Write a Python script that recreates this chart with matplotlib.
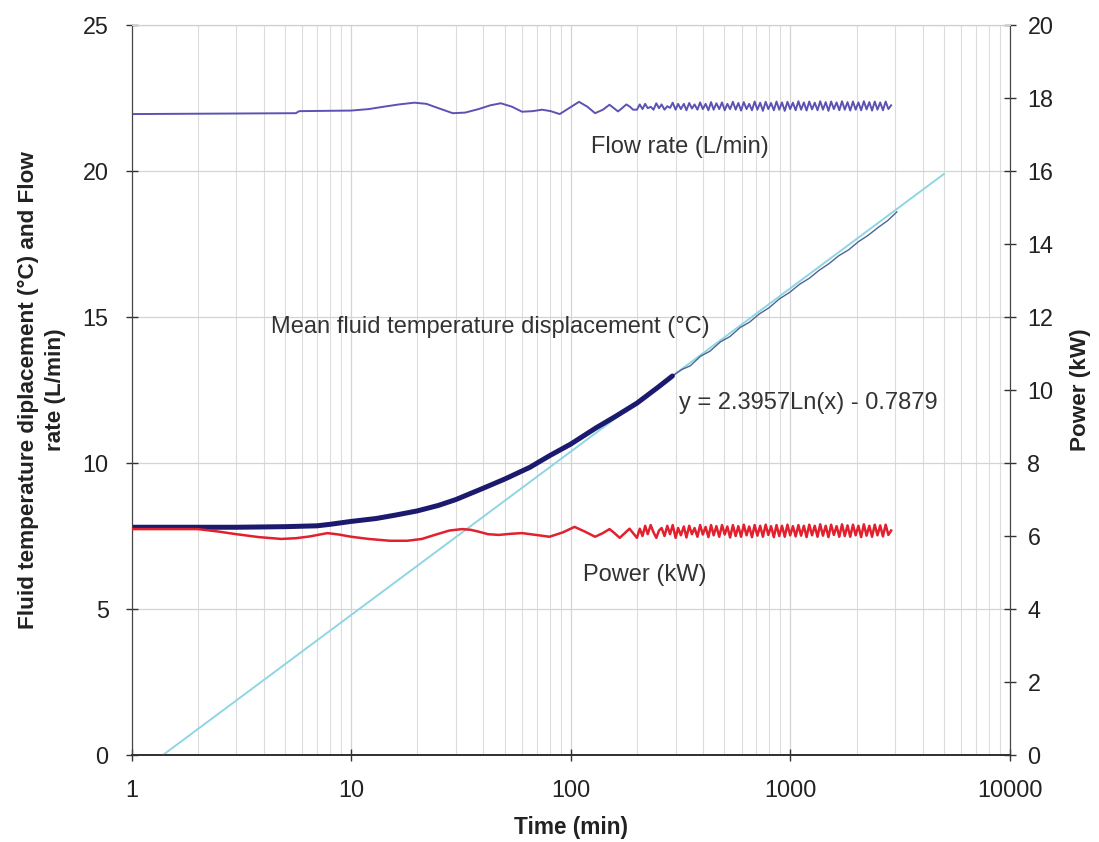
import matplotlib
matplotlib.use("Agg")
import matplotlib.pyplot as plt
from matplotlib.ticker import LogLocator, FixedLocator, NullFormatter, FixedFormatter

plt.rcParams['font.family'] = ['Liberation Sans', 'DejaVu Sans']

# ---------------- data ----------------
# Mean fluid temperature displacement (degC), early thick part
temp_t = [1, 2, 3, 5, 7, 8, 10, 13, 16, 20, 25, 30, 40, 50, 65, 80, 100, 130, 160, 200, 250, 290]
temp_v = [7.8, 7.8, 7.8, 7.82, 7.85, 7.9, 8.0, 8.1, 8.22, 8.36, 8.55, 8.75, 9.14, 9.45, 9.85,
          10.25, 10.65, 11.2, 11.6, 12.05, 12.6, 12.98]
# later (thin, along the fit line)
temp2_t = [290, 320, 350, 390, 430, 480, 530, 590, 650, 720, 800, 890, 990, 1100, 1220, 1350,
           1500, 1660, 1840, 2040, 2260, 2500, 2770, 3050]
temp2_v = [12.98, 13.2, 13.33, 13.66, 13.83, 14.15, 14.33, 14.64, 14.82, 15.1, 15.32, 15.62,
           15.84, 16.12, 16.33, 16.6, 16.83, 17.1, 17.3, 17.58, 17.8, 18.06, 18.3, 18.6]

# Trend line y = 2.3957 Ln(x) - 0.7879 (end points)
trend_t = [1.39, 5000]
trend_v = [0.0, 19.9]

# Flow rate (L/min) - early part
flow_t = [1, 3, 5.6, 5.8, 8, 10, 12, 14, 16.5, 19.4, 22, 25, 29, 33, 38, 43, 48, 54, 60, 67,
          74, 81, 89, 98, 109, 119, 129, 140, 150, 157, 164, 171, 179, 186, 192]
flow_v = [21.95, 21.97, 21.98, 22.05, 22.06, 22.07, 22.12, 22.2, 22.28, 22.34, 22.3, 22.15,
          21.98, 22.0, 22.12, 22.25, 22.32, 22.2, 22.03, 22.05, 22.1, 22.05, 21.95, 22.15,
          22.37, 22.2, 21.98, 22.1, 22.27, 22.15, 22.04, 22.15, 22.28, 22.2, 22.1]

# Power (kW) - early part
power_t = [1, 2, 2.5, 3, 3.8, 4.8, 5.6, 6.5, 7.8, 8.8, 10, 12, 15, 18, 21, 24, 28, 32, 35, 38,
           42, 47, 53, 60, 69, 80, 92, 104, 116, 129, 140, 150, 158, 167, 176, 185]
power_v = [6.19, 6.19, 6.12, 6.05, 5.97, 5.92, 5.94, 5.99, 6.08, 6.04, 5.98, 5.92, 5.87, 5.87,
           5.92, 6.03, 6.15, 6.19, 6.17, 6.12, 6.05, 6.03, 6.06, 6.08, 6.03, 5.98, 6.1, 6.25,
           6.12, 5.98, 6.08, 6.19, 6.08, 5.95, 6.08, 6.2]

# Late, fast-oscillating part (shared time stamps)
late_t = [200, 206, 212, 218, 224, 231, 238, 245, 252, 259, 267, 275, 283, 291, 300, 308, 317,
          327, 336, 346, 356, 366, 377, 388, 399, 411, 423, 435, 447, 460, 474, 488, 502, 516,
          531, 547, 563, 579, 596, 613, 631, 649, 668, 687, 707, 728, 749, 771, 793, 816, 840,
          864, 889, 915, 942, 969, 997, 1026, 1056, 1087, 1118, 1151, 1184, 1218, 1254, 1290,
          1328, 1366, 1406, 1447, 1489, 1532, 1576, 1622, 1669, 1717, 1767, 1819, 1871, 1926,
          1981, 2039, 2098, 2159, 2221, 2286, 2352, 2420, 2490, 2562, 2637, 2713, 2792, 2873]
late_flow = [22.1, 22.28, 22.12, 22.3, 22.15, 22.2, 22.1, 22.32, 22.15, 22.28, 22.1, 22.22,
             22.16, 22.34, 22.1,
             22.3, 22.12, 22.3, 22.08, 22.33, 22.14, 22.28, 22.1, 22.35, 22.12, 22.3, 22.08,
             22.36, 22.1, 22.32,
             22.12, 22.35, 22.08, 22.3, 22.12, 22.37, 22.1, 22.33, 22.07, 22.36, 22.12, 22.3,
             22.08, 22.38, 22.1, 22.34,
             22.06, 22.37, 22.12, 22.33, 22.08, 22.38, 22.1, 22.35, 22.06, 22.37, 22.12, 22.34,
             22.08, 22.39, 22.1, 22.35,
             22.07, 22.38, 22.11, 22.34, 22.08, 22.39, 22.1, 22.36, 22.06, 22.38, 22.12, 22.35,
             22.08, 22.39, 22.1, 22.36,
             22.07, 22.38, 22.1, 22.35, 22.08, 22.39, 22.11, 22.36, 22.07, 22.38, 22.1, 22.35,
             22.08, 22.38, 22.12, 22.25]
late_power = [5.95, 6.2, 6.0, 6.28, 6.05, 6.3, 6.1, 5.95, 6.15, 6.22, 6.0, 6.28, 6.05, 6.3, 5.95,
              6.22, 6.02, 6.26, 5.96, 6.28, 6.05, 6.22, 5.98, 6.3, 6.04, 6.25, 5.97, 6.3, 6.02,
              6.27,
              5.98, 6.3, 6.04, 6.26, 5.96, 6.3, 6.0, 6.27, 5.98, 6.31, 6.02, 6.26, 5.97, 6.3,
              6.01, 6.28,
              5.98, 6.31, 6.03, 6.27, 5.97, 6.3, 6.0, 6.28, 5.98, 6.31, 6.02, 6.27, 5.99, 6.3,
              6.01, 6.28,
              5.97, 6.31, 6.02, 6.28, 5.98, 6.32, 6.01, 6.28, 5.97, 6.31, 6.03, 6.27, 5.98, 6.32,
              6.0, 6.29,
              5.98, 6.31, 6.02, 6.28, 5.97, 6.32, 6.01, 6.28, 5.98, 6.31, 6.02, 6.29, 5.99, 6.31,
              6.03, 6.15]

x_ticks = [1, 10, 100, 1000, 10000]
x_labels = ['1', '10', '100', '1000', '10000']
left_ticks = [0, 5, 10, 15, 20, 25]
right_ticks = [0, 2, 4, 6, 8, 10, 12, 14, 16, 18, 20]

# ---------------- figure ----------------
fig = plt.figure(figsize=(10.99, 8.42), dpi=100)
ax = fig.add_axes([0.1197, 0.1033, 0.7994, 0.867])
ax2 = ax.twinx()

ax.set_xscale('log')
ax.set_xlim(1, 10000)
ax.set_ylim(0, 25)
ax2.set_ylim(0, 20)

ax.xaxis.set_major_locator(FixedLocator(x_ticks))
ax.xaxis.set_major_formatter(FixedFormatter(x_labels))
ax.xaxis.set_minor_locator(LogLocator(base=10, subs=range(2, 10), numticks=20))
ax.xaxis.set_minor_formatter(NullFormatter())
ax.grid(True, which='major', axis='both', color='#d4d4d4', lw=0.9)
ax.grid(True, which='minor', axis='x', color='#dcdcdc', lw=0.8)
ax.set_axisbelow(True)
ax.tick_params(axis='x', which='minor', length=0)

ax.set_yticks(left_ticks)
ax2.set_yticks(right_ticks)

lblsize = 16.8
ax.tick_params(axis='both', which='major', direction='inout', length=9, width=1.0,
               colors='#333333', labelsize=lblsize, pad=12)
ax.tick_params(axis='x', which='major', pad=13)
ax2.tick_params(axis='y', direction='inout', length=9, width=1.0, colors='#333333',
                labelsize=lblsize, pad=8)
for lab in ax.get_xticklabels() + ax.get_yticklabels() + ax2.get_yticklabels():
    lab.set_color('#222222')

for a in (ax, ax2):
    a.spines['top'].set_color('#cfcfcf')
    a.spines['left'].set_color('#444444')
    a.spines['bottom'].set_color('#333333')
    a.spines['right'].set_color('#444444')
    a.spines['bottom'].set_linewidth(1.3)

# series
ax.plot(trend_t, trend_v, color='#8fd6e4', lw=1.4, zorder=3)
ax.plot(temp2_t, temp2_v, color='#4d6490', lw=1.0, zorder=4)
ax.plot(temp_t, temp_v, color='#1c1a6e', lw=3.6, solid_capstyle='round', zorder=5)
ax.plot(flow_t + late_t, flow_v + late_flow, color='#5b52b4', lw=1.4, zorder=4)
ax2.plot(power_t + late_t, power_v + late_power, color='#e2202e', lw=1.8, zorder=4)

# annotations
txt = dict(fontsize=17, color='#333333', va='center')
ax.text(315, 20.82, 'Flow rate (L/min)', ha='center', **txt)
ax.text(4.3, 14.65, 'Mean fluid temperature displacement (\u00b0C)', ha='left', **txt)
ax.text(310, 12.05, 'y = 2.3957Ln(x) - 0.7879', ha='left', **txt)
ax.text(114, 6.16, 'Power (kW)', ha='left', **txt)

# axis labels
ax.set_xlabel('Time (min)', fontsize=16.3, fontweight='bold', color='#222222', labelpad=10)
ax.set_ylabel('Fluid temperature diplacement (\u00b0C) and Flow\nrate (L/min)', fontsize=16.2,
              fontweight='bold', color='#222222', labelpad=12, linespacing=1.35)
ax2.set_ylabel('Power (kW)', fontsize=16.2, fontweight='bold', color='#222222', labelpad=12)

fig.savefig('out.png', dpi=100)
